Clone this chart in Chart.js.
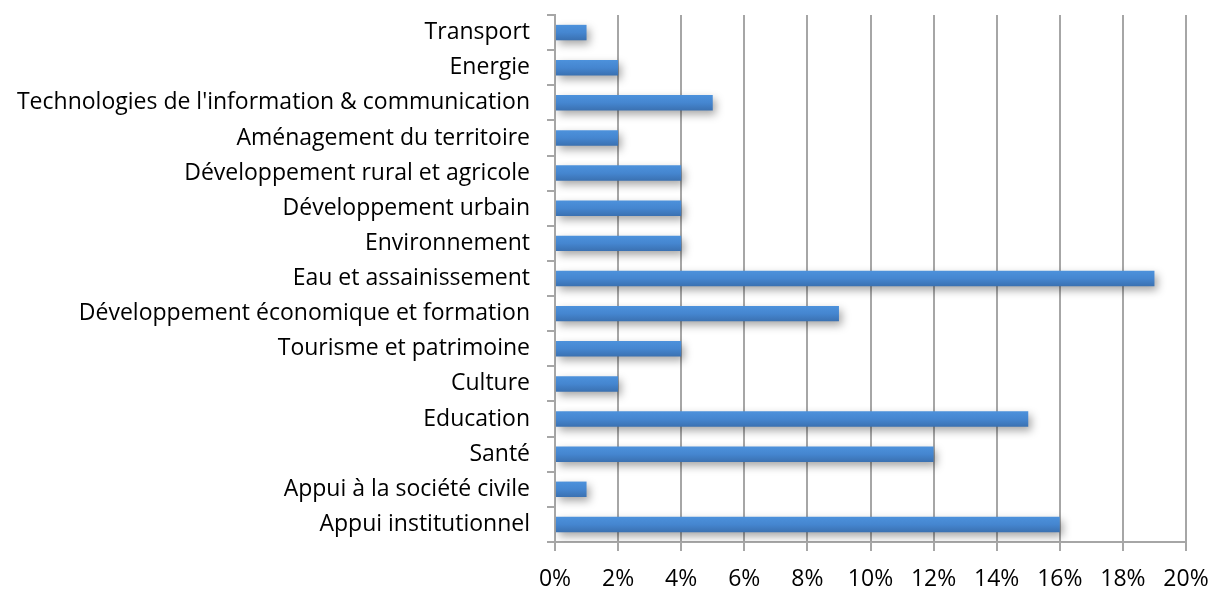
<!DOCTYPE html>
<html>
<head>
<meta charset="utf-8">
<script src="https://cdn.jsdelivr.net/npm/chart.js@4"></script>
<style>
  html, body { margin: 0; padding: 0; background: #fff; }
  #wrap { width: 1212px; height: 596px; }
</style>
</head>
<body>
<div id="wrap"><canvas id="myChart" width="1212" height="596"></canvas></div>
<script>
const categories = [
  "Transport",
  "Energie",
  "Technologies de l'information & communication",
  "Aménagement du territoire",
  "Développement rural et agricole",
  "Développement urbain",
  "Environnement",
  "Eau et assainissement",
  "Développement économique et formation",
  "Tourisme et patrimoine",
  "Culture",
  "Education",
  "Santé",
  "Appui à la société civile",
  "Appui institutionnel"
];
const shares = [1, 2, 5, 2, 4, 4, 4, 19, 9, 4, 2, 15, 12, 1, 16];
const xMin = 0;
const xMax = 20;
const xStep = 2;

// soft drop shadow under the bars, like the original
const barShadow = {
  id: 'barShadow',
  beforeDatasetsDraw(chart) {
    const ctx = chart.ctx;
    ctx.save();
    ctx.shadowColor = 'rgba(0,0,0,0.35)';
    ctx.shadowBlur = 8;
    ctx.shadowOffsetX = 3;
    ctx.shadowOffsetY = 4;
  },
  afterDatasetsDraw(chart) {
    chart.ctx.restore();
  }
};

// top-to-bottom shading inside each bar
function barFill(context) {
  const chart = context.chart;
  const yScale = chart.scales.y;
  if (!yScale || context.dataIndex === undefined) return '#4584d0';
  const yc = yScale.getPixelForValue(context.dataIndex);
  if (!isFinite(yc)) return '#4584d0';
  const g = chart.ctx.createLinearGradient(0, yc - 8, 0, yc + 8);
  g.addColorStop(0, '#4d92dc');
  g.addColorStop(0.5, '#4586d0');
  g.addColorStop(1, '#3a70b0');
  return g;
}

const grey = '#a6a6a6';
const font = { family: "'Open Sans', 'Noto Sans', sans-serif", size: 23 };

let myChart = document.querySelector("#myChart");
new Chart(myChart, {
  type: 'bar',
  data: {
    labels: categories,
    datasets: [{
      data: shares,
      backgroundColor: barFill,
      borderWidth: 0,
      categoryPercentage: 1,
      barPercentage: 0.44
    }]
  },
  options: {
    indexAxis: 'y',
    responsive: false,
    animation: false,
    layout: { padding: { top: 15, right: 26, bottom: 0, left: 0 } },
    plugins: { legend: { display: false }, tooltip: { enabled: false } },
    scales: {
      x: {
        min: xMin,
        max: xMax,
        border: { color: grey, width: 2 },
        grid: { color: grey, lineWidth: 2, tickLength: 9, drawOnChartArea: true },
        ticks: {
          stepSize: xStep,
          color: '#000',
          font: font,
          padding: 15,
          callback: v => v + '%'
        },
        afterFit(scale) {
          scale.height = 54;
          scale.paddingRight = 0;
          scale.paddingLeft = 0;
        }
      },
      y: {
        border: { color: grey, width: 2 },
        grid: { color: grey, lineWidth: 2, tickLength: 8, drawOnChartArea: false, offset: true },
        ticks: { color: '#000', font: font, padding: 17, autoSkip: false },
        afterFit(scale) {
          scale.width = 555;
          scale.paddingTop = 0;
          scale.paddingBottom = 0;
        }
      }
    }
  },
  plugins: [barShadow]
});
</script>
</body>
</html>
